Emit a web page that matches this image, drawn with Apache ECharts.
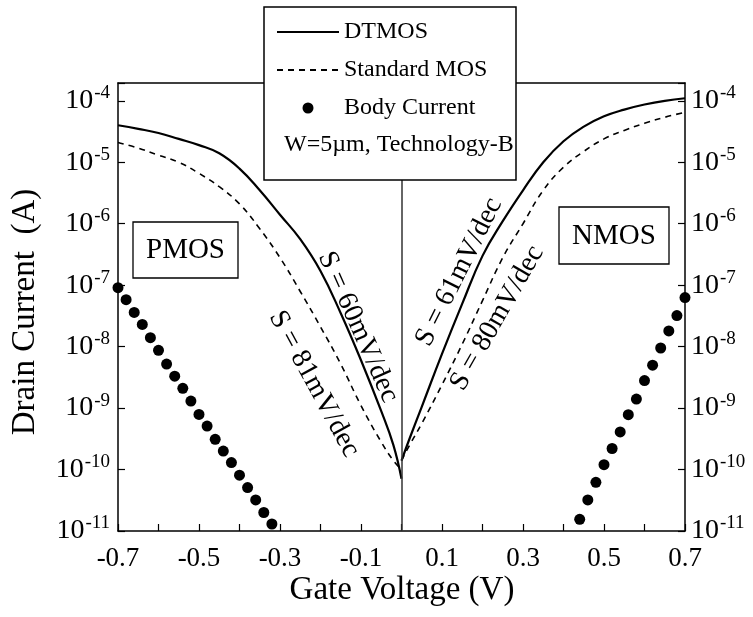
<!DOCTYPE html>
<html>
<head>
<meta charset="utf-8">
<script src="https://cdn.jsdelivr.net/npm/echarts@6/dist/echarts.min.js"></script>
<style>
  html, body { margin: 0; padding: 0; background: #fff; }
  #chart { width: 753px; height: 617px; }
</style>
</head>
<body>
<div id="chart"></div>
<script>
const FONT = "'Liberation Serif', 'Times New Roman', serif";

// Gate voltage sweeps (V)
const pmosVg = [-0.70, -0.65, -0.60, -0.55, -0.50, -0.45, -0.40, -0.35, -0.30, -0.25, -0.20, -0.15, -0.10, -0.05, -0.02, 0.00];
const nmosVg = [0.00, 0.02, 0.05, 0.10, 0.15, 0.20, 0.25, 0.30, 0.35, 0.40, 0.45, 0.50, 0.55, 0.60, 0.65, 0.70];

// Drain current (A)
const pmosDtmos = [4.0e-5, 3.5e-5, 3.0e-5, 2.4e-5, 1.9e-5, 1.4e-5, 7.9e-6, 3.5e-6, 1.4e-6, 5.6e-7, 1.7e-7, 3.5e-8, 6.0e-9, 8.9e-10, 2.5e-10, 7.1e-11];
const pmosStd   = [2.1e-5, 1.7e-5, 1.3e-5, 1.0e-5, 6.6e-6, 4.0e-6, 2.1e-6, 8.3e-7, 2.8e-7, 7.9e-8, 2.1e-8, 5.2e-9, 1.1e-9, 2.8e-10, 1.4e-10, 1.0e-10];
const nmosDtmos = [1.4e-10, 3.2e-10, 1.05e-9, 7.6e-9, 5.0e-8, 3.0e-7, 1.1e-6, 3.5e-6, 1.0e-5, 2.2e-5, 3.8e-5, 5.6e-5, 7.2e-5, 8.7e-5, 1.0e-4, 1.1e-4];
const nmosStd   = [1.4e-10, 2.5e-10, 5.6e-10, 2.4e-9, 1.1e-8, 5.6e-8, 2.8e-7, 1.0e-6, 3.5e-6, 8.3e-6, 1.5e-5, 2.4e-5, 3.3e-5, 4.3e-5, 5.4e-5, 6.5e-5];

// Body current (A)
const pmosBodyVg = [-0.70, -0.68, -0.66, -0.64, -0.62, -0.60, -0.58, -0.56, -0.54, -0.52, -0.50, -0.48, -0.46, -0.44, -0.42, -0.40, -0.38, -0.36, -0.34, -0.32];
const pmosBody   = [9.1e-8, 5.8e-8, 3.6e-8, 2.3e-8, 1.4e-8, 8.7e-9, 5.2e-9, 3.3e-9, 2.1e-9, 1.3e-9, 7.9e-10, 5.1e-10, 3.1e-10, 2.0e-10, 1.3e-10, 8.1e-11, 5.1e-11, 3.2e-11, 2.0e-11, 1.3e-11];
const nmosBodyVg = [0.44, 0.46, 0.48, 0.50, 0.52, 0.54, 0.56, 0.58, 0.60, 0.62, 0.64, 0.66, 0.68, 0.70];
const nmosBody   = [1.55e-11, 3.2e-11, 6.2e-11, 1.2e-10, 2.2e-10, 4.1e-10, 7.8e-10, 1.4e-9, 2.8e-9, 5.0e-9, 9.5e-9, 1.8e-8, 3.2e-8, 6.3e-8];

// Axis ranges: gate voltage (V) and current decades (log10 A)
const vgMin = -0.7, vgMax = 0.7, vgStep = 0.1;
const decadeMin = -11, decadeMax = -3.71;

// Subthreshold slope annotations
const slopeLabels = [
  { text: 'S = 60mV/dec', x: 358, y: 327, angle: -66 },
  { text: 'S = 81mV/dec', x: 314, y: 384, angle: -61.5 },
  { text: 'S = 61mV/dec', x: 459, y: 272, angle: 63.4 },
  { text: 'S = 80mV/dec', x: 497, y: 318, angle: 60.2 }
];

const toLog = (xs, ys) => xs.map((x, i) => [x, Math.log10(ys[i])]);

const decadeLabel = v => {
  const n = Math.round(v);
  return Math.abs(v - n) < 1e-6 ? '{b|10}{s|' + n + '}' : '';
};
const decadeRich = {
  b: { fontFamily: FONT, fontSize: 28, color: '#000', lineHeight: 34 },
  s: { fontFamily: FONT, fontSize: 19, color: '#000', verticalAlign: 'top', lineHeight: 34, padding: [0, 0, 0, 1] }
};

const solid = { color: '#000', width: 2.2 };
const dashed = { color: '#000', width: 1.6, type: [6, 5] };
const lineBase = { type: 'line', symbol: 'none', smooth: 0.45, z: 3, silent: true, itemStyle: { color: '#000' } };
const dotBase = { type: 'scatter', symbol: 'circle', symbolSize: 11, itemStyle: { color: '#000', opacity: 1 }, z: 4, silent: true };

const frameLine = { show: true, onZero: false, lineStyle: { color: '#000', width: 1.5 } };
const inTick = { show: true, inside: true, length: 7, lineStyle: { color: '#000', width: 1.2 } };

const chart = echarts.init(document.getElementById('chart'), null, { renderer: 'canvas' });

chart.setOption({
  animation: false,
  backgroundColor: '#fff',
  grid: { left: 118, right: 68, top: 83, bottom: 86 },
  xAxis: [
    {
      type: 'value', position: 'bottom', min: vgMin, max: vgMax, interval: vgStep,
      axisLine: frameLine, axisTick: inTick, splitLine: { show: false },
      axisLabel: {
        margin: 14, color: '#000', fontFamily: FONT, fontSize: 27,
        formatter: v => (Math.abs(Math.round(v * 10)) % 2 === 1 ? v.toFixed(1) : '')
      }
    },
    {
      type: 'value', position: 'top', min: vgMin, max: vgMax,
      axisLine: frameLine, axisTick: { show: false }, axisLabel: { show: false }, splitLine: { show: false }
    }
  ],
  yAxis: [
    {
      type: 'value', position: 'left', min: decadeMin, max: decadeMax, interval: 1,
      axisLine: frameLine, axisTick: inTick, splitLine: { show: false },
      axisLabel: { margin: 8, formatter: decadeLabel, rich: decadeRich }
    },
    {
      type: 'value', position: 'right', min: decadeMin, max: decadeMax, interval: 1,
      axisLine: frameLine, axisTick: inTick, splitLine: { show: false },
      axisLabel: { margin: 6, formatter: decadeLabel, rich: decadeRich }
    }
  ],
  legend: {
    orient: 'vertical', left: 271, top: 15,
    itemWidth: 62, itemHeight: 11, itemGap: 14,
    selectedMode: false, z: 20,
    textStyle: { fontFamily: FONT, fontSize: 24, color: '#000', lineHeight: 24 },
    data: [
      { name: 'DTMOS', itemStyle: { opacity: 0 } },
      { name: 'Standard MOS', itemStyle: { opacity: 0 } },
      { name: 'Body Current', icon: 'circle' }
    ]
  },
  series: [
    {
      ...lineBase, name: 'DTMOS', data: toLog(pmosVg, pmosDtmos), lineStyle: solid,
      markLine: {
        silent: true, symbol: ['none', 'none'], label: { show: false },
        lineStyle: { color: '#333', width: 1.5, type: 'solid' },
        data: [{ xAxis: 0 }]
      }
    },
    { ...lineBase, name: 'DTMOS', data: toLog(nmosVg, nmosDtmos), lineStyle: solid },
    { ...lineBase, name: 'Standard MOS', data: toLog(pmosVg, pmosStd), lineStyle: dashed },
    { ...lineBase, name: 'Standard MOS', data: toLog(nmosVg, nmosStd), lineStyle: dashed },
    { ...dotBase, name: 'Body Current', data: toLog(pmosBodyVg, pmosBody) },
    { ...dotBase, name: 'Body Current', data: toLog(nmosBodyVg, nmosBody) }
  ],
  graphic: [
    // legend frame and the device note inside it
    { type: 'rect', z: 10, shape: { x: 264, y: 7, width: 252, height: 173 },
      style: { fill: '#fff', stroke: '#000', lineWidth: 1.5 } },
    { type: 'text', z: 21, x: 284, y: 145,
      style: { text: 'W=5µm, Technology-B', fontFamily: FONT, fontSize: 24, fill: '#000', align: 'left', verticalAlign: 'middle' } },
    // device tags
    { type: 'rect', z: 10, shape: { x: 133, y: 222, width: 105, height: 56 },
      style: { fill: '#fff', stroke: '#000', lineWidth: 1.3 } },
    { type: 'text', z: 21, x: 185.5, y: 250,
      style: { text: 'PMOS', fontFamily: FONT, fontSize: 29, fill: '#000', align: 'center', verticalAlign: 'middle' } },
    { type: 'rect', z: 10, shape: { x: 559, y: 207, width: 110, height: 57 },
      style: { fill: '#fff', stroke: '#000', lineWidth: 1.3 } },
    { type: 'text', z: 21, x: 614, y: 236,
      style: { text: 'NMOS', fontFamily: FONT, fontSize: 29, fill: '#000', align: 'center', verticalAlign: 'middle' } },
    // axis titles
    { type: 'text', z: 21, x: 402, y: 590,
      style: { text: 'Gate Voltage (V)', fontFamily: FONT, fontSize: 33, fill: '#000', align: 'center', verticalAlign: 'middle' } },
    { type: 'text', z: 21, x: 25, y: 312, rotation: Math.PI / 2,
      style: { text: 'Drain Current  (A)', fontFamily: FONT, fontSize: 33, fill: '#000', align: 'center', verticalAlign: 'middle' } },
    ...slopeLabels.map(s => ({
      type: 'text', z: 21, x: s.x, y: s.y, rotation: s.angle * Math.PI / 180,
      style: { text: s.text, fontFamily: FONT, fontSize: 28, fill: '#000', align: 'center', verticalAlign: 'middle' }
    }))
  ]
});
</script>
</body>
</html>
